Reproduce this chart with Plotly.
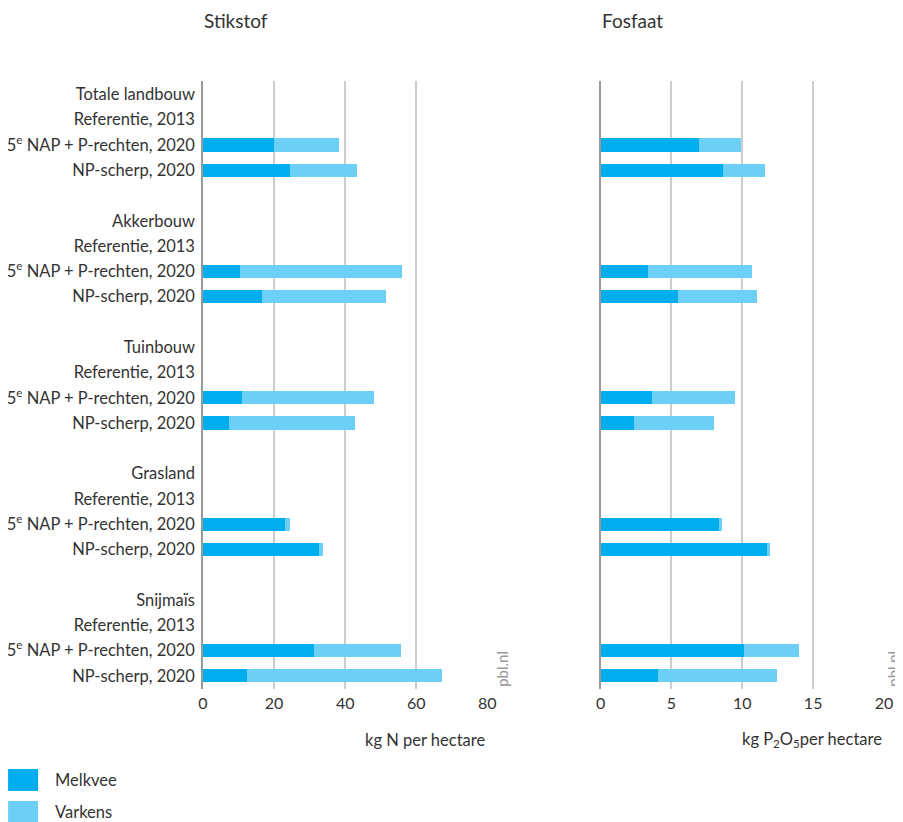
import plotly.graph_objects as go
from plotly.subplots import make_subplots

# ---------------- data ----------------
groups = ["Totale landbouw", "Akkerbouw", "Tuinbouw", "Grasland", "Snijmaïs"]
scenarios = ["Referentie, 2013", "5<sup>e</sup> NAP + P-rechten, 2020", "NP-scherp, 2020"]

# values per group: [Referentie 2013, 5e NAP + P-rechten 2020, NP-scherp 2020]
n_melkvee = [[None, 20.0, 24.4], [None, 10.3, 16.5], [None, 11.1, 7.2], [None, 23.0, 32.5], [None, 31.1, 12.5]]
n_varkens = [[None, 18.2, 18.8], [None, 45.7, 34.9], [None, 36.9, 35.5], [None, 1.4, 1.2], [None, 24.5, 54.7]]
p_melkvee = [[None, 6.93, 8.62], [None, 3.34, 5.45], [None, 3.62, 2.35], [None, 8.34, 11.73], [None, 10.1, 4.04]]
p_varkens = [[None, 2.97, 2.97], [None, 7.33, 5.57], [None, 5.85, 5.64], [None, 0.21, 0.21], [None, 3.88, 8.39]]

n_ticks = [0, 20, 40, 60, 80]
p_ticks = [0, 5, 10, 15, 20]
series_names = ["Melkvee", "Varkens"]
colors = ["#00aeef", "#6dcff6"]

# ---------------- layout helpers ----------------
OFF = 8  # page body margin
W, H = 903 - OFF, 822 - OFF
L, R, T, B = 203 - OFF, 884.3 - OFF, 80.7 - OFF, 689 - OFF


def px(x):
    return (x - OFF - L) / (R - L)


def py(y):
    return (B - (y - OFF)) / (B - T)


# build rows: group header, scenarios, blank row between groups
row_pos, row_text = [], []
ys_bar = []
pos = 0
for gi, g in enumerate(groups):
    row_pos.append(pos)
    row_text.append(g)
    pos += 1
    ylist = []
    for s in scenarios:
        row_pos.append(pos)
        row_text.append(s)
        ylist.append(pos)
        pos += 1
    ys_bar.append(ylist)
    if gi < len(groups) - 1:
        pos += 1

yvals = [y for yl in ys_bar for y in yl]


def flat(v):
    return [x for row in v for x in row]


fig = make_subplots(rows=1, cols=2, shared_yaxes=True, horizontal_spacing=0.05)

for col, (mv, vk) in enumerate([(n_melkvee, n_varkens), (p_melkvee, p_varkens)], start=1):
    for name, vals, c in zip(series_names, [mv, vk], colors):
        fig.add_trace(go.Bar(
            x=flat(vals), y=yvals, orientation="h", name=name,
            marker=dict(color=c, line=dict(width=0)), width=0.52,
            showlegend=False, hoverinfo="x+name"
        ), row=1, col=col)

font_family = "Lato, 'Open Sans', sans-serif"
txt = "#333333"
FS = 16.5

fig.update_layout(
    barmode="stack",
    width=W, height=H,
    margin=dict(l=L, r=W - R, t=T, b=H - B, pad=0, autoexpand=False),
    plot_bgcolor="white", paper_bgcolor="white",
    font=dict(family=font_family, size=FS, color=txt),
    showlegend=False,
)

x1_dom = [0, px(487.5)]
x2_dom = [px(600.7), 1]
fig.update_xaxes(showgrid=True, gridcolor="#cccccc", gridwidth=1.5, zeroline=False,
                 showline=False, ticks="", automargin=False, ticklabelstandoff=3,
                 tickfont=dict(size=16, color=txt))
fig.update_layout(
    xaxis=dict(domain=x1_dom, range=[0, 80], tickvals=n_ticks),
    xaxis2=dict(domain=x2_dom, range=[0, 20], tickvals=p_ticks),
    yaxis=dict(range=[23.52, -0.53], tickvals=row_pos, ticktext=row_text, showgrid=False,
               zeroline=False, showline=True, linecolor="#999999", linewidth=1.5, automargin=False,
               ticks="", ticklabelstandoff=3, tickfont=dict(size=FS, color=txt)),
    yaxis2=dict(range=[23.52, -0.53], showgrid=False, zeroline=False, showline=True, automargin=False,
                linecolor="#999999", linewidth=1.5, ticks=""),
)

ann = []
for title, xx in [("Stikstof", 203), ("Fosfaat", 600.7)]:
    ann.append(dict(text=title, x=px(xx), y=py(8), xref="paper", yref="paper",
                    xanchor="left", yanchor="top", showarrow=False, borderpad=0,
                    font=dict(size=19, color=txt)))
ann.append(dict(text="kg N per hectare", x=px(487.5), y=py(740), xref="paper", yref="paper",
                xanchor="right", yanchor="middle", showarrow=False, font=dict(size=FS, color=txt)))
ann.append(dict(text="kg P<sub>2</sub>O<sub>5</sub>per hectare", x=1, y=py(740), xref="paper", yref="paper",
                xanchor="right", yanchor="middle", showarrow=False, font=dict(size=FS, color=txt)))
for xp in [502, 893]:
    ann.append(dict(text="pbl.nl", x=px(xp), y=py(688), xref="paper", yref="paper",
                    xanchor="center", yanchor="bottom", textangle=-90, showarrow=False, borderpad=0,
                    font=dict(size=15, color="#999999")))

shapes = []
for i, (name, c) in enumerate(zip(series_names, colors)):
    y0 = 769 + i * 32
    shapes.append(dict(type="rect", xref="paper", yref="paper", x0=px(8), x1=px(38),
                       y0=py(y0), y1=py(y0 + 22), fillcolor=c, line=dict(width=0)))
    ann.append(dict(text=name, x=px(53), y=py(y0 + 11), xref="paper", yref="paper",
                    xanchor="left", yanchor="middle", showarrow=False, font=dict(size=FS, color=txt)))

fig.update_layout(annotations=ann, shapes=shapes)

fig.write_html("out.html")
